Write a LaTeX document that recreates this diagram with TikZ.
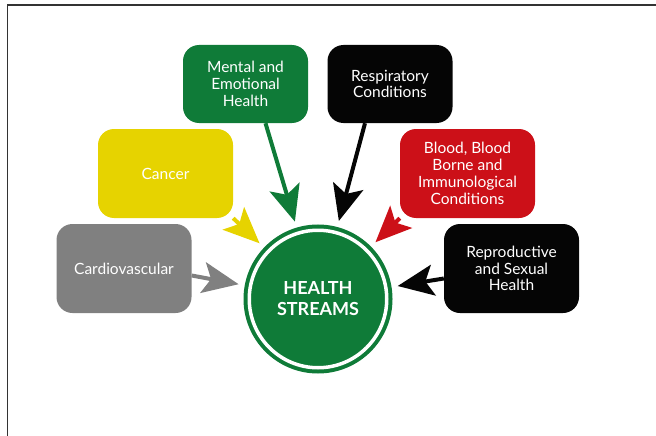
\documentclass[tikz,border=0pt]{standalone}
\usepackage{fontspec}
\setmainfont{Lato}
\usepackage{xcolor}
\usepackage{tikz}
\usetikzlibrary{arrows.meta,backgrounds,calc}

\definecolor{hsgreen}{HTML}{0F7B38}
\definecolor{hsyellow}{HTML}{E6D300}
\definecolor{hsgray}{HTML}{808080}
\definecolor{hsred}{HTML}{CC1018}
\definecolor{hsblack}{HTML}{050505}

\begin{document}
\begin{tikzpicture}[
    x=1pt, y=-1pt,
    >={Stealth[length=36pt,width=31pt,inset=8pt]},
    stream/.style={
        rectangle, rounded corners=16pt, fill=#1, text=white,
        minimum width=135pt, minimum height=89pt,
        align=center, inner sep=0pt,
        font=\fontsize{15.5}{16.8}\selectfont
    },
    smallstream/.style={
        stream=#1, minimum width=125pt, minimum height=78pt
    },
    hubnode/.style={
        circle, fill=hsgreen, draw=hsgreen, double=white,
        double distance=3.5pt, line width=4pt,
        minimum size=137.5pt, inner sep=0pt, outer sep=0pt,
        text=white, align=center,
        font=\fontsize{18}{21}\selectfont\bfseries
    },
    feed/.style={
        ->, line width=4pt, draw=#1, shorten >=12pt
    }
]
\useasboundingbox (0,0) rectangle (656,436);

% frame of the page
\draw[line width=1.8pt, draw=black!80] (656,5) -- (7.5,5) -- (7.5,436);

% — Centre —
\node[hubnode] (hub) at (318,299) {HEALTH\\STREAMS};

% — Streams round the centre —
\node[smallstream=hsgreen] (mental) at (245.5,84) {Mental and\\Emotional\\Health};
\node[smallstream=hsblack] (resp)   at (390,84)   {Respiratory\\Conditions};
\node[stream=hsyellow]     (cancer) at (165.5,173.5) {Cancer};
\node[stream=hsred]        (blood)  at (467.5,173.5) {Blood, Blood\\Borne and\\Immunological\\Conditions};
\node[stream=hsgray]       (cardio) at (124,268.5) {Cardiovascular};
\node[stream=hsblack]      (repro)  at (511.5,268.5) {Reproductive\\and Sexual\\Health};

% — Arrows into the centre —
\begin{scope}[on background layer]
\draw[feed=hsgreen]  ([xshift=20pt]mental.south) -- (hub);
\draw[feed=hsblack]  ([xshift=-25pt]resp.south) -- (hub);
\draw[feed=hsyellow] (cancer.south east) -- (hub);
\draw[feed=hsred]    (blood.south west) -- (hub);
\draw[feed=hsgray]   ([yshift=-7pt]cardio.east) -- (hub);
\draw[feed=hsblack]  ([yshift=-10pt]repro.west) -- (hub);
\end{scope}

\end{tikzpicture}
\end{document}
